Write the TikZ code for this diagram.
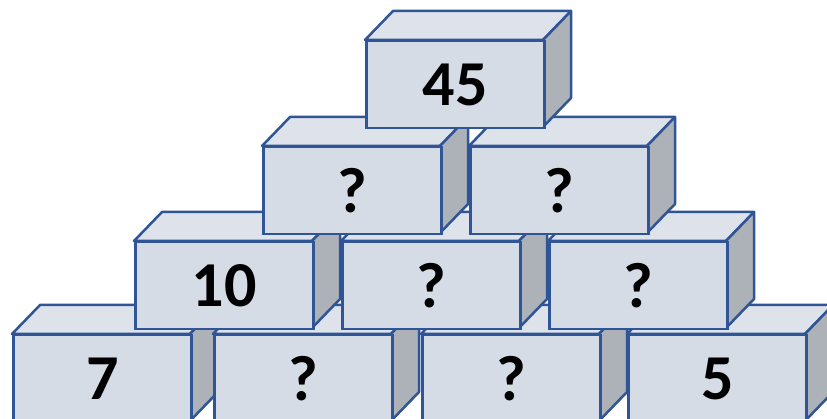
\documentclass[tikz,border=0pt]{standalone}
\usepackage{fontspec}
\setmainfont{Carlito}
\definecolor{brickline}{HTML}{2F5597}
\definecolor{brickface}{HTML}{D6DCE5}
\definecolor{bricklight}{HTML}{DEE3EB}
\definecolor{brickgray}{HTML}{ADB1B8}
\tikzset{
  brickfront/.style={draw=brickline, fill=brickface, line width=2.5pt, inner sep=0pt,
    minimum width=178pt, minimum height=87pt, anchor=north west,
    font=\bfseries\fontsize{64}{68}\selectfont},
  bricktop/.style={draw=brickline, fill=bricklight, line width=2.5pt, line join=round},
  brickside/.style={draw=brickline, fill=brickgray, line width=2.5pt, line join=round}
}
% name, left x, top y, label
\newcommand\brick[4]{%
  \draw[bricktop] (#2,#3) -- ++(28,-29) -- ++(178,0) -- ++(-28,29) -- cycle;
  \draw[brickside] (#2+178,#3) -- ++(28,-29) -- ++(0,87) -- ++(-28,29) -- cycle;
  \node[brickfront] (#1) at (#2,#3) {#4};
}
\begin{document}
\begin{tikzpicture}[x=1pt,y=-1pt]
\useasboundingbox (0,0) rectangle (827,419);
\clip (0,0) rectangle (827,419);
% bottom row
\brick{d1}{12}{334}{7}
\brick{d2}{213}{334}{?}
\brick{d3}{421}{334}{?}
\brick{d4}{627}{334}{5}
% third row
\brick{c1}{134}{241}{10}
\brick{c2}{341}{241}{?}
\brick{c3}{548}{241}{?}
% second row
\brick{b1}{262}{146}{?}
\brick{b2}{469}{146}{?}
% top
\brick{a1}{365}{40}{45}
\end{tikzpicture}
\end{document}
